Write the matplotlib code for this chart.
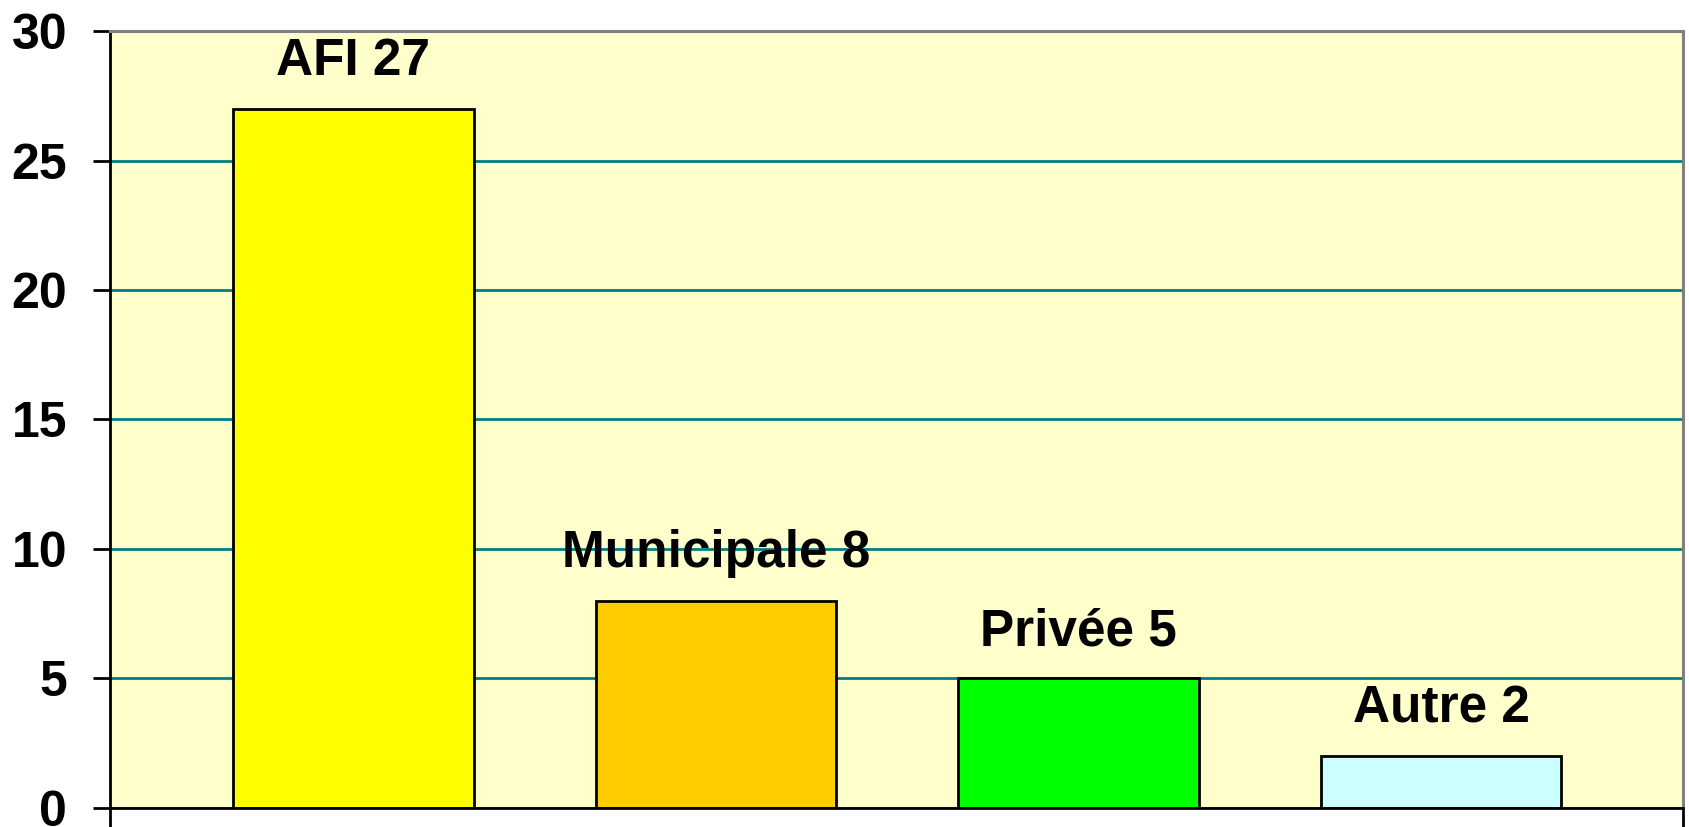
import matplotlib.pyplot as plt

plt.rcParams["font.family"] = ["Liberation Sans", "DejaVu Sans"]

# Data
categories = ["AFI", "Municipale", "Privée", "Autre"]
values = [27, 8, 5, 2]
colors = ["#FFFF00", "#FFCC00", "#00FF00", "#CCFFFF"]
yticks = [0, 5, 10, 15, 20, 25, 30]

fig = plt.figure(figsize=(16.9, 8.27), dpi=100)
ax = fig.add_axes([0.0651, 0.023, 0.9307, 0.9395])
ax.set_facecolor("#FFFFCC")

x = list(range(len(categories)))
ax.bar(x, values, width=0.664, color=colors, edgecolor="black", linewidth=2.0, zorder=2)

# Labels above bars
for xi, cat, v in zip(x, categories, values):
    ax.annotate(f"{cat} {v}", (xi, v), xytext=(0, 24), textcoords="offset points",
                ha="center", va="baseline", fontsize=37, fontweight="bold", zorder=3)

ax.set_xlim(-0.671, 3.667)
ax.set_ylim(0, 30)
ax.set_yticks(yticks)
ax.set_yticklabels([str(t) for t in yticks], fontsize=36, fontweight="bold")
ax.tick_params(axis="y", length=12, width=2.0, pad=19)
ax.set_xticks([-0.671, 3.667])
ax.set_xticklabels([])
ax.tick_params(axis="x", length=14, width=2.0)

ax.yaxis.grid(True, color="#008080", linewidth=2.0)
ax.set_axisbelow(True)

for side in ["left", "bottom"]:
    ax.spines[side].set_color("black")
    ax.spines[side].set_linewidth(2.0)
for side in ["top", "right"]:
    ax.spines[side].set_color("#808080")
    ax.spines[side].set_linewidth(2.2)

plt.savefig("out.png", dpi=100)
plt.close("all")
